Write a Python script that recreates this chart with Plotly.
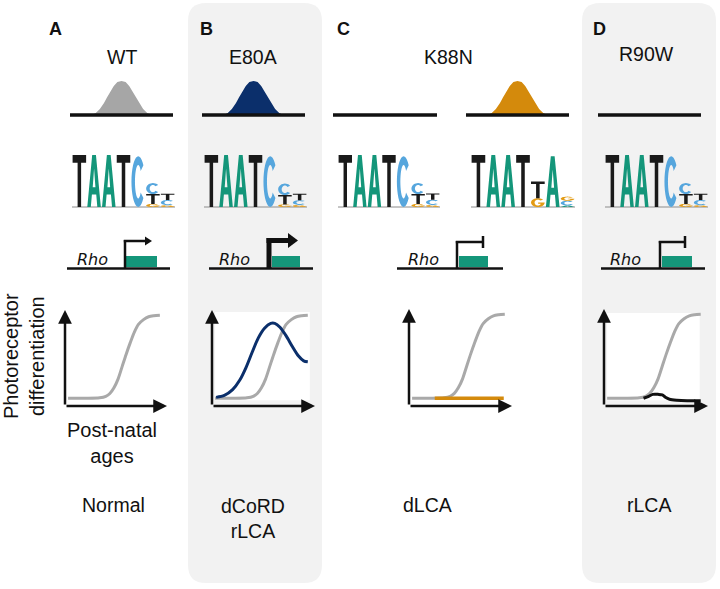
import math
import plotly.graph_objects as go

W, H = 720, 589

# ---------------- data ----------------
panel_letters = ["A", "B", "C", "D"]
variant_names = ["WT", "E80A", "K88N", "R90W"]
phenotype_labels = ["Normal", "dCoRD<br>rLCA", "dLCA", "rLCA"]
promoter_label = "<i>Rho</i>"
y_axis_label = "Photoreceptor<br>differentiation"
x_axis_label = "Post-natal<br>ages"

# binding peak tracks (relative peak height per track)
peak_tracks = ["WT", "E80A", "K88N_a", "K88N_b", "R90W"]
peak_scale = [1.0, 1.0, 0.0, 1.0, 0.0]
peak_colors = ["#a6a6a6", "#0b2f6b", None, "#d48a0c", None]
peak_offsets = [-0.29, -0.25, -0.21, -0.17, -0.14, -0.11, -0.075, -0.04, 0.0,
                0.04, 0.075, 0.11, 0.14, 0.17, 0.21, 0.25, 0.29]
peak_heights = [0.0, 0.06, 0.18, 0.35, 0.52, 0.68, 0.85, 0.97, 1.0,
                0.97, 0.85, 0.68, 0.52, 0.35, 0.18, 0.06, 0.0]

# motif logos: each column listed bottom -> top as (base, bits)
logo_wt = [[("T", 2.0)], [("A", 2.0)], [("A", 2.0)], [("T", 2.0)], [("C", 1.95)],
           [("G", 0.12), ("T", 0.38), ("C", 0.42)],
           [("G", 0.07), ("C", 0.20), ("T", 0.24)]]
logo_e80a = [[("T", 2.0)], [("A", 2.0)], [("A", 2.0)], [("T", 2.0)], [("C", 1.95)],
             [("G", 0.10), ("T", 0.36), ("C", 0.44)],
             [("G", 0.08), ("C", 0.18), ("T", 0.25)]]
logo_k88n_a = [[("T", 2.0)], [("A", 2.0)], [("A", 2.0)], [("T", 2.0)], [("C", 1.95)],
               [("G", 0.12), ("T", 0.38), ("C", 0.42)],
               [("G", 0.08), ("C", 0.20), ("T", 0.24)]]
logo_k88n_b = [[("T", 2.0)], [("A", 2.0)], [("A", 2.0)], [("T", 2.0)],
               [("G", 0.34), ("T", 0.64)], [("A", 1.95)],
               [("A", 0.06), ("C", 0.18), ("G", 0.16)]]
logo_r90w = [[("T", 2.0)], [("A", 2.0)], [("A", 2.0)], [("T", 2.0)], [("C", 1.95)],
             [("G", 0.12), ("T", 0.38), ("C", 0.42)],
             [("G", 0.07), ("C", 0.20), ("T", 0.24)]]
base_colors = {"T": "#1a1a1a", "A": "#14967a", "C": "#56a6dd", "G": "#e39b14"}

# differentiation curves vs post-natal age (normalised units)
age_normal = [0.03, 0.20, 0.34, 0.40, 0.44, 0.48, 0.52, 0.56, 0.60, 0.64, 0.68, 0.72, 0.77, 0.82, 0.87, 0.93]
diff_normal = [0.08, 0.08, 0.085, 0.10, 0.13, 0.19, 0.28, 0.41, 0.54, 0.66, 0.77, 0.85, 0.90, 0.93, 0.94, 0.945]
age_e80a = [0.04, 0.12, 0.20, 0.27, 0.33, 0.39, 0.45, 0.51, 0.57, 0.61, 0.66, 0.72, 0.78, 0.84, 0.89, 0.93]
diff_e80a = [0.09, 0.11, 0.17, 0.27, 0.40, 0.56, 0.71, 0.81, 0.86, 0.86, 0.82, 0.73, 0.62, 0.52, 0.47, 0.46]
age_k88n = [0.25, 0.92]
diff_k88n = [0.08, 0.08]
age_r90w = [0.38, 0.43, 0.47, 0.52, 0.56, 0.59, 0.63, 0.70, 0.80, 0.93]
diff_r90w = [0.08, 0.10, 0.12, 0.12, 0.115, 0.09, 0.07, 0.06, 0.055, 0.055]

# ---------------- layout geometry (pixels) ----------------
FONT = "Liberation Sans, Arial, sans-serif"
gray_panels = [(188, 3, 322, 583), (582, 3, 716, 583)]
letter_pos = [(55, 29), (206, 29), (343, 29), (599, 29)]
title_pos = [(122, 57), (253, 57), (448, 57), (646, 54)]
pheno_pos = [(113, 505), (253, 518), (427, 505), (649, 505)]
peak_px = [(70, 173), (202, 305), (333, 437), (466, 569), (598, 701)]
PEAK_BASE, PEAK_TOP = 115, 81
logo_px = [(72, 175), (204, 307), (338, 440), (471, 575), (605, 708)]
LOGO_BASE, LOGO_TOP = 207, 155
curve_px = [((65, 406), 167, 310), ((212, 406), 315, 310), ((409, 406), 512, 309), ((604, 406), 708, 309)]

fig = go.Figure()
layout_axes = {}
shapes = []
annotations = []
count = [0]


def P(x, y):
    return x / W, 1 - y / H


def new_axis(px_x, d_x, rng_x, px_y, d_y, rng_y):
    count[0] += 1
    n = count[0]

    def dom(pa, pb, da, db, rng, total, flip):
        k = (pb - pa) / (db - da)
        p0 = pa + (rng[0] - da) * k
        p1 = pa + (rng[1] - da) * k
        if flip:
            d = sorted([1 - p0 / total, 1 - p1 / total])
        else:
            d = sorted([p0 / total, p1 / total])
        return [max(0, min(1, v)) for v in d]

    sfx = "" if n == 1 else str(n)
    common = dict(visible=False, fixedrange=True, showgrid=False, zeroline=False)
    layout_axes["xaxis" + sfx] = dict(domain=dom(px_x[0], px_x[1], d_x[0], d_x[1], rng_x, W, False),
                                      range=rng_x, anchor="y" + sfx, **common)
    layout_axes["yaxis" + sfx] = dict(domain=dom(px_y[0], px_y[1], d_y[0], d_y[1], rng_y, H, True),
                                      range=rng_y, anchor="x" + sfx, **common)
    return "x" + sfx, "y" + sfx


def ann(text, x, y, size=19, **kw):
    px, py = P(x, y)
    d = dict(text=text, x=px, y=py, xref="paper", yref="paper", showarrow=False,
             xanchor="center", yanchor="middle", font=dict(family=FONT, size=size, color="#111111"))
    d.update(kw)
    annotations.append(d)


def pline(x0, y0, x1, y1, w=2.5, color="#111111"):
    a, b = P(x0, y0)
    c, d = P(x1, y1)
    shapes.append(dict(type="line", xref="paper", yref="paper", x0=a, y0=b, x1=c, y1=d,
                       line=dict(color=color, width=w), layer="above"))


def ppoly(pts, color):
    s = "M " + " L ".join("%.5f,%.5f" % P(x, y) for x, y in pts) + " Z"
    shapes.append(dict(type="path", xref="paper", yref="paper", path=s, fillcolor=color,
                       line=dict(width=0), layer="above"))


def rrect(x0, y0, x1, y1, r):
    def p(x, y):
        a, b = P(x, y)
        return "%.5f,%.5f" % (a, b)
    return ("M %s L %s Q %s %s L %s Q %s %s L %s Q %s %s L %s Q %s %s Z" % (
        p(x0 + r, y0), p(x1 - r, y0), p(x1, y0), p(x1, y0 + r), p(x1, y1 - r), p(x1, y1), p(x1 - r, y1),
        p(x0 + r, y1), p(x0, y1), p(x0, y1 - r), p(x0, y0 + r), p(x0, y0), p(x0 + r, y0)))


# gray panels
for (x0, y0, x1, y1) in gray_panels:
    shapes.append(dict(type="path", xref="paper", yref="paper", path=rrect(x0, y0, x1, y1, 18),
                       fillcolor="#f2f2f2", line=dict(width=0), layer="below"))

# texts
for t, (x, y) in zip(panel_letters, letter_pos):
    ann("<b>%s</b>" % t, x, y, size=18)
for t, (x, y) in zip(variant_names, title_pos):
    ann(t, x, y, size=19.5)
for t, (x, y) in zip(phenotype_labels, pheno_pos):
    ann(t, x, y, size=19.5)
ann(y_axis_label, 24, 356, size=20, textangle=-90)
ann(x_axis_label, 112, 443, size=20)

# ---------------- peaks ----------------
for i, name in enumerate(peak_tracks):
    xa, ya = new_axis(peak_px[i], (0, 1), [0, 1], (PEAK_BASE, PEAK_TOP), (0, 1), [-0.3, 1.1])
    if peak_scale[i] > 0:
        fig.add_trace(go.Scatter(x=[0.5 + o for o in peak_offsets],
                                 y=[peak_scale[i] * h for h in peak_heights],
                                 fill="toself", fillcolor=peak_colors[i], mode="lines",
                                 line=dict(width=0, color=peak_colors[i]),
                                 xaxis=xa, yaxis=ya, hoverinfo="skip", showlegend=False))
    fig.add_trace(go.Scatter(x=[0, 1], y=[0, 0], mode="lines", line=dict(color="#111111", width=3.5),
                             xaxis=xa, yaxis=ya, hoverinfo="skip", showlegend=False))


# ---------------- logos ----------------
def glyph(letter):
    if letter == "T":
        return [[(0, 1), (1, 1), (1, 0.85), (0.63, 0.85), (0.63, 0), (0.37, 0), (0.37, 0.85), (0, 0.85)]]
    if letter == "A":
        return [[(0, 0), (0.36, 1), (0.64, 1), (1, 0), (0.74, 0), (0.66, 0.24), (0.34, 0.24), (0.26, 0)],
                [(0.40, 0.38), (0.60, 0.38), (0.5, 0.74)]]
    if letter == "C":
        outer = [(0.5 + 0.5 * math.cos(math.radians(a)), 0.5 + 0.5 * math.sin(math.radians(a)))
                 for a in range(40, 321, 10)]
        inner = [(0.5 + 0.24 * math.cos(math.radians(a)), 0.5 + 0.33 * math.sin(math.radians(a)))
                 for a in range(320, 39, -10)]
        return [outer + inner]
    # G
    outer = [(0.5 + 0.5 * math.cos(math.radians(a)), 0.5 + 0.5 * math.sin(math.radians(a)))
             for a in range(40, 361, 10)]
    inner = [(0.5 + 0.24 * math.cos(math.radians(a)), 0.5 + 0.33 * math.sin(math.radians(a)))
             for a in range(335, 39, -10)]
    return [outer + [(0.52, 0.5), (0.52, 0.37), (0.72, 0.37)] + inner]


logos = [logo_wt, logo_e80a, logo_k88n_a, logo_k88n_b, logo_r90w]
for i, logo in enumerate(logos):
    xa, ya = new_axis(logo_px[i], (0.5, 7.5), [0.4, 7.6], (LOGO_BASE, LOGO_TOP), (0, 2), [-0.1, 2.1])
    fig.add_trace(go.Scatter(x=[0.5, 7.5], y=[0, 0], mode="lines", line=dict(color="#8c8c8c", width=1),
                             xaxis=xa, yaxis=ya, hoverinfo="skip", showlegend=False))
    for c, column in enumerate(logo, start=1):
        cum = 0.0
        for base, bits in column:
            x0, x1 = c - 0.46, c + 0.46
            y0, y1 = cum, cum + bits
            parts = []
            for poly in glyph(base):
                parts.append("M " + " L ".join("%.4f,%.4f" % (x0 + u * (x1 - x0), y0 + v * (y1 - y0))
                                               for u, v in poly) + " Z")
            shapes.append(dict(type="path", xref=xa, yref=ya, path=" ".join(parts),
                               fillcolor=base_colors[base], line=dict(width=0), layer="above"))
            cum += bits

# ---------------- Rho promoter diagrams ----------------
rho_cfg = [
    dict(line=(67, 170), text=92, box=(126, 157), stem=125, arm=146, kind="arrow"),
    dict(line=(209, 313), text=234, box=(272, 300), stem=269, arm=289, kind="big"),
    dict(line=(397, 503), text=423, box=(459, 488), stem=457, arm=483, kind="block"),
    dict(line=(601, 705), text=625, box=(662, 692), stem=660, arm=685, kind="block"),
]
for cfg in rho_cfg:
    ann(promoter_label, cfg["text"], 259, size=16, font=dict(family="DejaVu Sans", size=16, color="#111111"))
    b0, b1 = cfg["box"]
    ppoly([(b0, 256), (b1, 256), (b1, 267), (b0, 267)], "#14967a")
    pline(cfg["line"][0], 268.5, cfg["line"][1], 268.5, 2.5)
    s, a = cfg["stem"], cfg["arm"]
    if cfg["kind"] == "arrow":
        pline(s, 268.5, s, 240, 2.5)
        pline(s - 1.2, 241, a, 241, 2.5)
        ppoly([(a - 1, 236.5), (a + 6, 241), (a - 1, 245.5)], "#111111")
    elif cfg["kind"] == "big":
        pline(s, 268.5, s, 238, 5)
        pline(s - 2.5, 240.5, a, 240.5, 5)
        ppoly([(a - 1, 233), (a + 9, 240.5), (a - 1, 248)], "#111111")
    else:
        pline(s, 268.5, s, 241, 2.5)
        pline(s - 1.2, 242, a, 242, 2.5)
        pline(a, 236, a, 248, 2.5)

# ---------------- differentiation plots ----------------
curve_sets = [
    [(age_normal, diff_normal, "#a9a9a9", 3)],
    [(age_normal, diff_normal, "#a9a9a9", 3), (age_e80a, diff_e80a, "#0b2f6b", 3)],
    [(age_normal, diff_normal, "#a9a9a9", 3), (age_k88n, diff_k88n, "#d48a0c", 3.5)],
    [(age_normal, diff_normal, "#a9a9a9", 3), (age_r90w, diff_r90w, "#111111", 3)],
]
white_boxes = [None, (0.03, 0.06, 0.95, 0.98), None, (0.03, 0.06, 0.92, 0.96)]
for i, ((ox, oy), tipx, tipy) in enumerate(curve_px):
    xa, ya = new_axis((ox, tipx), (0, 1), [-0.05, 1.05], (oy, tipy), (0, 1), [-0.05, 1.05])
    if white_boxes[i]:
        x0, y0, x1, y1 = white_boxes[i]
        shapes.append(dict(type="rect", xref=xa, yref=ya, x0=x0, y0=y0, x1=x1, y1=y1,
                           fillcolor="white", line=dict(width=0), layer="below"))
    for xs, ys, col, w in curve_sets[i]:
        fig.add_trace(go.Scatter(x=xs, y=ys, mode="lines", line=dict(color=col, width=w, shape="spline", smoothing=0.8),
                                 xaxis=xa, yaxis=ya, hoverinfo="skip", showlegend=False))
    for (hx, hy) in [(0, 1), (1, 0)]:
        annotations.append(dict(x=hx, y=hy, ax=0, ay=0, xref=xa, yref=ya, axref=xa, ayref=ya,
                                text="", showarrow=True, arrowhead=2, arrowsize=1.1, arrowwidth=2.5,
                                arrowcolor="#111111"))

fig.update_layout(
    width=W, height=H, autosize=False,
    margin=dict(l=0, r=0, t=0, b=0, pad=0),
    paper_bgcolor="white", plot_bgcolor="rgba(0,0,0,0)",
    showlegend=False, hovermode=False,
    shapes=shapes, annotations=annotations,
    **layout_axes,
)
fig.write_html("out.html", config={"displayModeBar": False, "staticPlot": True},
               post_script="document.body.style.margin='0px';document.body.style.overflow='hidden';")
